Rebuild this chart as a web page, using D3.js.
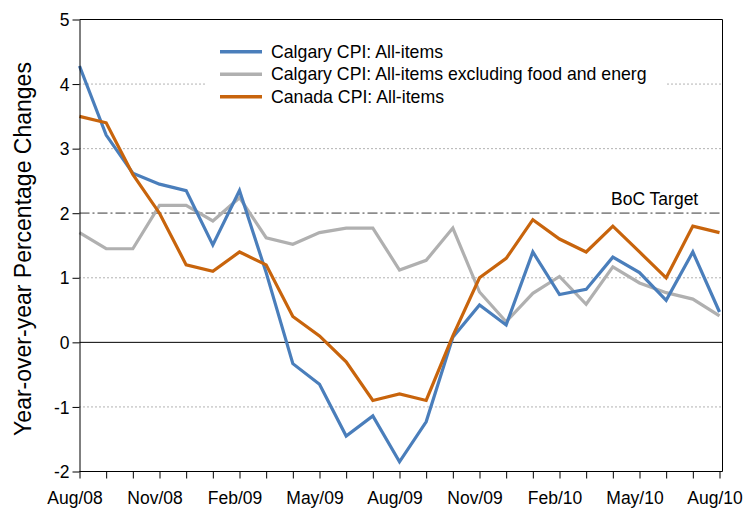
<!DOCTYPE html>
<html>
<head>
	<meta charset="utf-8">
	<title>Calgary CPI</title>
	<script src="https://cdn.jsdelivr.net/npm/d3@7"></script>
	<style>
		body { margin: 0; background: #fff; font-family: Arial, "Liberation Sans", sans-serif; }
		svg text { fill: #000; }
	</style>
</head>
<body>
	<div id="chart"></div>
	<script>

		// data

		const months = [
			"Aug/08", "Sep/08", "Oct/08", "Nov/08", "Dec/08", "Jan/09", "Feb/09", "Mar/09", "Apr/09",
			"May/09", "Jun/09", "Jul/09", "Aug/09", "Sep/09", "Oct/09", "Nov/09", "Dec/09", "Jan/10",
			"Feb/10", "Mar/10", "Apr/10", "May/10", "Jun/10", "Jul/10", "Aug/10"
		];
		const calgaryAll = [
			4.28, 3.21, 2.62, 2.45, 2.35, 1.51, 2.35, 1.08, -0.33, -0.65, -1.45, -1.14, -1.85,
			-1.23, 0.08, 0.58, 0.27, 1.40, 0.74, 0.82, 1.32, 1.08, 0.65, 1.40, 0.47
		];
		const calgaryCore = [
			1.70, 1.45, 1.45, 2.12, 2.12, 1.88, 2.24, 1.62, 1.52, 1.70, 1.77, 1.77, 1.12,
			1.27, 1.77, 0.78, 0.32, 0.76, 1.02, 0.59, 1.17, 0.92, 0.77, 0.67, 0.41
		];
		const canadaAll = [
			3.5, 3.4, 2.6, 2.0, 1.2, 1.1, 1.4, 1.2, 0.4, 0.1, -0.3, -0.9, -0.8,
			-0.9, 0.1, 1.0, 1.3, 1.9, 1.6, 1.4, 1.8, 1.4, 1.0, 1.8, 1.7
		];
		const seriesNames = [
			"Calgary CPI: All-items",
			"Calgary CPI: All-items excluding food and energ",
			"Canada CPI: All-items"
		];
		const colors = ["#4a7ebb", "#b0b0b0", "#c8640c"];
		const yTicks = [-2, -1, 0, 1, 2, 3, 4, 5];
		const target = 2;

		// layout

		const width = 752, height = 508;
		const marginLeft = 79.5, marginTop = 19.5, plotRight = 722.5, marginBottom = 36.5;

		const x = d3.scalePoint(months, [marginLeft, 719.5]);
		const y = d3.scaleLinear([-2, 5], [height - marginBottom, marginTop]);

		const svg = d3.select("#chart").append("svg")
			.attr("width", width)
			.attr("height", height)
			.attr("viewBox", [0, 0, width, height]);

		// dotted grid lines
		svg.append("g")
			.selectAll("line")
			.data(yTicks.filter(d => d !== 0 && d !== target && d !== 5 && d !== -2))
			.join("line")
			.attr("x1", marginLeft)
			.attr("x2", plotRight)
			.attr("y1", d => y(d))
			.attr("y2", d => y(d))
			.attr("stroke", "#666")
			.attr("stroke-width", 1)
			.attr("stroke-dasharray", "1,3");

		// zero line
		svg.append("line")
			.attr("x1", marginLeft).attr("x2", plotRight)
			.attr("y1", y(0)).attr("y2", y(0))
			.attr("stroke", "#000");

		// BoC target
		svg.append("line")
			.attr("x1", marginLeft).attr("x2", plotRight)
			.attr("y1", y(target)).attr("y2", y(target))
			.attr("stroke", "#8c8c8c")
			.attr("stroke-width", 1.8)
			.attr("stroke-dasharray", "10,3,2,3");

		svg.append("text")
			.attr("x", 611)
			.attr("y", y(target) - 8)
			.style("font-size", "17.5px")
			.text("BoC Target");

		// frame top / right
		svg.append("path")
			.attr("d", `M${marginLeft},${marginTop}H${plotRight}V${y(-2)}`)
			.attr("fill", "none")
			.attr("stroke", "#000");

		// legend box (hides grid behind)
		svg.append("rect")
			.attr("x", 207).attr("y", 32)
			.attr("width", 458).attr("height", 78)
			.attr("fill", "#fff");

		// series
		const line = d3.line()
			.x((d, i) => x(months[i]))
			.y(d => y(d));

		const series = [calgaryAll, calgaryCore, canadaAll];
		[1, 0, 2].forEach(k => {
			svg.append("path")
				.attr("d", line(series[k]))
				.attr("fill", "none")
				.attr("stroke", colors[k])
				.attr("stroke-width", 3.2)
				.attr("stroke-linejoin", "miter");
		});

		// legend
		const legend = svg.append("g")
			.selectAll("g")
			.data(seriesNames)
			.join("g")
			.attr("transform", (d, i) => `translate(220,${51.7 + i * 22.5})`);

		legend.append("line")
			.attr("x1", 0).attr("x2", 42)
			.attr("stroke", (d, i) => colors[i])
			.attr("stroke-width", 3.5);

		legend.append("text")
			.attr("x", 51)
			.attr("dy", "0.35em")
			.style("font-size", "17.7px")
			.text(d => d);

		// axes
		svg.append("g")
			.attr("transform", `translate(0,${y(-2)})`)
			.call(d3.axisBottom(x).tickSize(7).tickSizeOuter(0)
				.tickFormat((d, i) => i % 3 === 0 ? d : ""))
			.call(g => g.selectAll(".domain").attr("d", `M${marginLeft},0H${plotRight}`))
			.call(g => g.selectAll("text")
				.attr("dx", -5)
				.attr("dy", "1.3em")
				.style("font-size", "17.5px")
				.attr("font-family", null));

		svg.append("g")
			.attr("transform", `translate(${marginLeft},0)`)
			.call(d3.axisLeft(y).tickValues(yTicks).tickSize(7).tickSizeOuter(0)
				.tickFormat(d => String(d)))
			.call(g => g.selectAll("text")
				.attr("dy", "0.35em")
				.style("font-size", "17.5px")
				.attr("font-family", null));

		svg.selectAll(".tick line, .domain").attr("stroke", "#000");

		// y axis title
		svg.append("text")
			.attr("transform", `translate(31,249) rotate(-90)`)
			.attr("text-anchor", "middle")
			.style("font-size", "23px")
			.text("Year-over-year Percentage Changes");

	</script>
</body>
</html>
